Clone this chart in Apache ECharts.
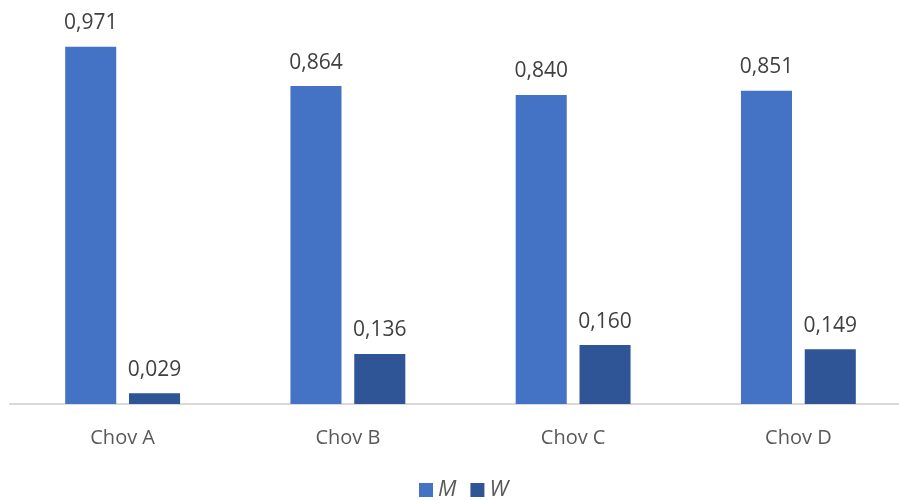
<!DOCTYPE html>
<html>
<head>
<meta charset="utf-8">
<script src="https://cdn.jsdelivr.net/npm/echarts@6/dist/echarts.min.js"></script>
<style>html,body{margin:0;padding:0;background:#fff;}#c{width:899px;height:500px;}</style>
</head>
<body>
<div id="c"></div>
<script>
const categories = ['Chov A', 'Chov B', 'Chov C', 'Chov D'];
const seriesM = [0.971, 0.864, 0.840, 0.851];
const seriesW = [0.029, 0.136, 0.160, 0.149];
const seriesNames = ['M', 'W'];

const fmt = p => p.value.toFixed(3).replace('.', ',');
const labelStyle = {
  show: true, position: 'top', distance: 13,
  color: '#404040', fontSize: 21, fontFamily: 'Open Sans', formatter: fmt
};
const chart = echarts.init(document.getElementById('c'), null, {renderer: 'canvas'});
chart.setOption({
  animation: false,
  backgroundColor: '#fff',
  grid: {left: 10, right: -12, top: 36, bottom: 96, containLabel: false, outerBoundsMode: 'none'},
  legend: {
    top: 479, left: 419, padding: 0, itemWidth: 14, itemHeight: 14, itemGap: 14,
    icon: 'rect',
    textStyle: {color: '#595959', fontSize: 22, fontStyle: 'italic', fontFamily: 'Open Sans'},
    data: seriesNames
  },
  xAxis: {
    type: 'category', data: categories,
    axisLine: {lineStyle: {color: '#d9d9d9', width: 2}},
    axisTick: {show: false},
    axisLabel: {color: '#595959', fontSize: 20, margin: 24, fontFamily: 'Open Sans'}
  },
  yAxis: {
    type: 'value', min: 0, max: 1, show: false,
    splitLine: {show: false}
  },
  series: [
    {name: seriesNames[0], type: 'bar', data: seriesM, barGap: '25%', barCategoryGap: '49%',
     itemStyle: {color: '#4472C4'}, label: labelStyle},
    {name: seriesNames[1], type: 'bar', data: seriesW, barGap: '25%', barCategoryGap: '49%',
     itemStyle: {color: '#2F5597'}, label: labelStyle}
  ]
});
</script>
</body>
</html>
